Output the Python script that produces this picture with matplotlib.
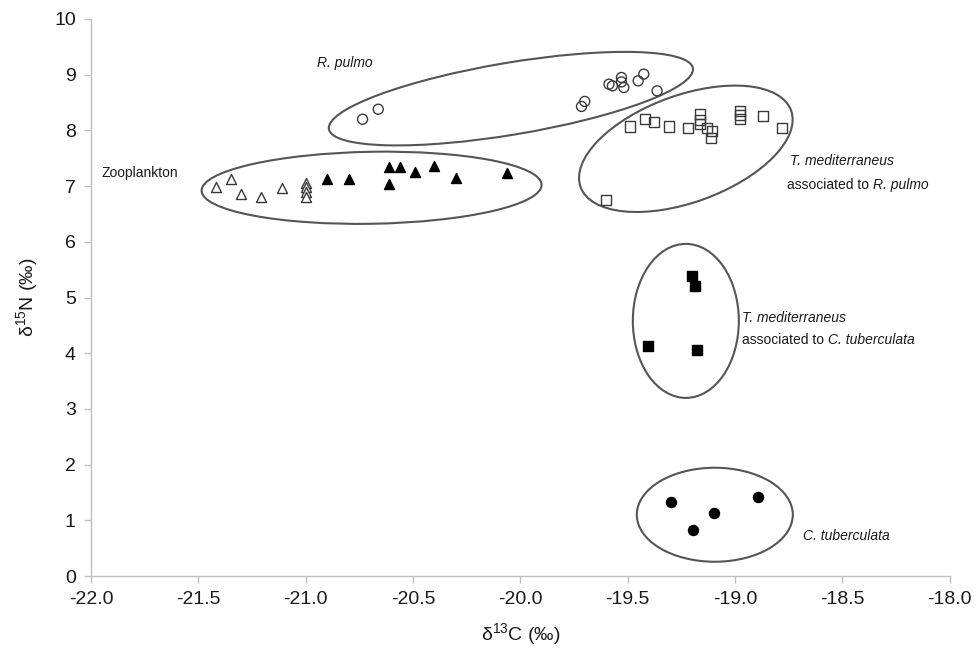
import matplotlib
matplotlib.use("Agg")
import matplotlib.pyplot as plt
from matplotlib.patches import Ellipse
from matplotlib.transforms import ScaledTranslation

plt.rcParams["font.family"] = ["Liberation Sans", "DejaVu Sans"]
plt.rcParams["mathtext.fontset"] = "custom"
plt.rcParams["mathtext.rm"] = "Liberation Sans"
plt.rcParams["mathtext.it"] = "Liberation Sans:italic"

# Zooplankton (open and filled triangles)
zoo_open_c = [-21.42, -21.35, -21.30, -21.21, -21.11, -21.00, -21.00, -21.00, -21.00]
zoo_open_n = [6.98, 7.13, 6.86, 6.81, 6.96, 7.05, 6.98, 6.90, 6.81]
zoo_fill_c = [-20.90, -20.80, -20.61, -20.56, -20.49, -20.40, -20.30, -20.61, -20.06]
zoo_fill_n = [7.12, 7.12, 7.34, 7.35, 7.26, 7.36, 7.14, 7.04, 7.23]

# Rhizostoma pulmo (open circles)
rp_c = [-20.735, -20.662, -19.715, -19.700, -19.587, -19.571, -19.529, -19.529,
        -19.518, -19.451, -19.425, -19.363]
rp_n = [8.20, 8.38, 8.43, 8.52, 8.83, 8.80, 8.95, 8.87, 8.77, 8.89, 9.01, 8.71]

# T. mediterraneus associated to R. pulmo (open squares)
tmr_c = [-19.487, -19.420, -19.378, -19.307, -19.219, -19.165, -19.165, -19.165,
         -19.130, -19.105, -19.114, -18.977, -18.977, -18.977, -18.870, -18.780,
         -19.600]
tmr_n = [8.07, 8.20, 8.15, 8.07, 8.04, 8.29, 8.19, 8.11, 8.04, 7.99, 7.86,
         8.35, 8.28, 8.20, 8.26, 8.05, 6.75]

# T. mediterraneus associated to C. tuberculata (filled squares)
tmc_c = [-19.198, -19.187, -19.405, -19.177]
tmc_n = [5.39, 5.21, 4.13, 4.06]

# Cotylorhiza tuberculata (filled circles)
ct_c = [-19.299, -19.098, -19.195, -18.893]
ct_n = [1.32, 1.13, 0.83, 1.41]

# Group outlines: centre (δ13C, δ15N), width and height in inches, angle in degrees
ell_centre = [(-20.693, 6.97), (-20.044, 8.57), (-19.229, 7.67), (-19.229, 4.58), (-19.094, 1.10)]
ell_size = [(3.40, 0.72), (3.69, 0.72), (2.24, 1.07), (1.06, 1.54), (1.56, 0.94)]
ell_angle = [1.0, 9.5, 20.0, 0.0, 0.0]

xticks = [-22.0, -21.5, -21.0, -20.5, -20.0, -19.5, -19.0, -18.5, -18.0]
yticks = list(range(0, 11))

fig = plt.figure(figsize=(9.79, 6.55), dpi=100)
ax = fig.add_axes([0.093, 0.1206, 0.877, 0.8504])

edge = "#3a3a3a"
ax.scatter(zoo_open_c, zoo_open_n, marker="^", s=52, facecolors="white", edgecolors=edge, linewidths=1.0, zorder=3)
ax.scatter(zoo_fill_c, zoo_fill_n, marker="^", s=52, color="black", zorder=3)
ax.scatter(rp_c, rp_n, marker="o", s=52, facecolors="none", edgecolors=edge, linewidths=1.0, zorder=3)
ax.scatter(tmr_c, tmr_n, marker="s", s=52, facecolors="none", edgecolors=edge, linewidths=1.0, zorder=3)
ax.scatter(tmc_c, tmc_n, marker="s", s=52, color="black", zorder=3)
ax.scatter(ct_c, ct_n, marker="o", s=52, color="black", zorder=3)

for (cx, cy), (w, h), ang in zip(ell_centre, ell_size, ell_angle):
    tr = fig.dpi_scale_trans + ScaledTranslation(cx, cy, ax.transData)
    ax.add_patch(Ellipse((0, 0), w, h, angle=ang, transform=tr, fill=False,
                         edgecolor="#555555", linewidth=1.5, zorder=2))

ax.set_xlim(-22, -18)
ax.set_ylim(0, 10)
ax.set_xticks(xticks)
ax.set_xticklabels([f"{v:.1f}" for v in xticks])
ax.set_yticks(yticks)

for side in ("top", "right"):
    ax.spines[side].set_visible(False)
for side in ("left", "bottom"):
    ax.spines[side].set_color("#bfbfbf")
    ax.spines[side].set_linewidth(1.0)
ax.tick_params(axis="both", direction="out", length=5, width=1, color="#bfbfbf",
               labelsize=14, labelcolor="#1a1a1a", pad=6)

ax.set_xlabel(r"δ$^{13}$C (‰)", fontsize=14, color="#1a1a1a", labelpad=9)
ax.set_ylabel(r"δ$^{15}$N (‰)", fontsize=14, color="#1a1a1a", labelpad=10)

txt = dict(fontsize=10, color="#1a1a1a", va="center", ha="left")
ax.text(-21.949, 7.24, "Zooplankton", **txt)
ax.text(-20.945, 9.21, "R. pulmo", style="italic", **txt)
ax.text(-18.745, 7.45, "T. mediterraneus", style="italic", **txt)
ax.text(-18.759, 7.02, "associated to ", **txt)
ax.text(-18.969, 4.64, "T. mediterraneus", style="italic", **txt)
ax.text(-18.969, 4.23, "associated to ", **txt)
ax.text(-18.685, 0.72, "C. tuberculata", style="italic", **txt)

fig.canvas.draw()
rend = fig.canvas.get_renderer()
# append italic species names after the plain "associated to " prefixes
for t, name in ((ax.texts[3], "R. pulmo"), (ax.texts[5], "C. tuberculata")):
    bb = t.get_window_extent(rend)
    x_end, _ = ax.transData.inverted().transform((bb.x1, 0))
    _, y = t.get_position()
    ax.text(x_end, y, name, style="italic", **txt)

fig.savefig("out.png", dpi=100)
